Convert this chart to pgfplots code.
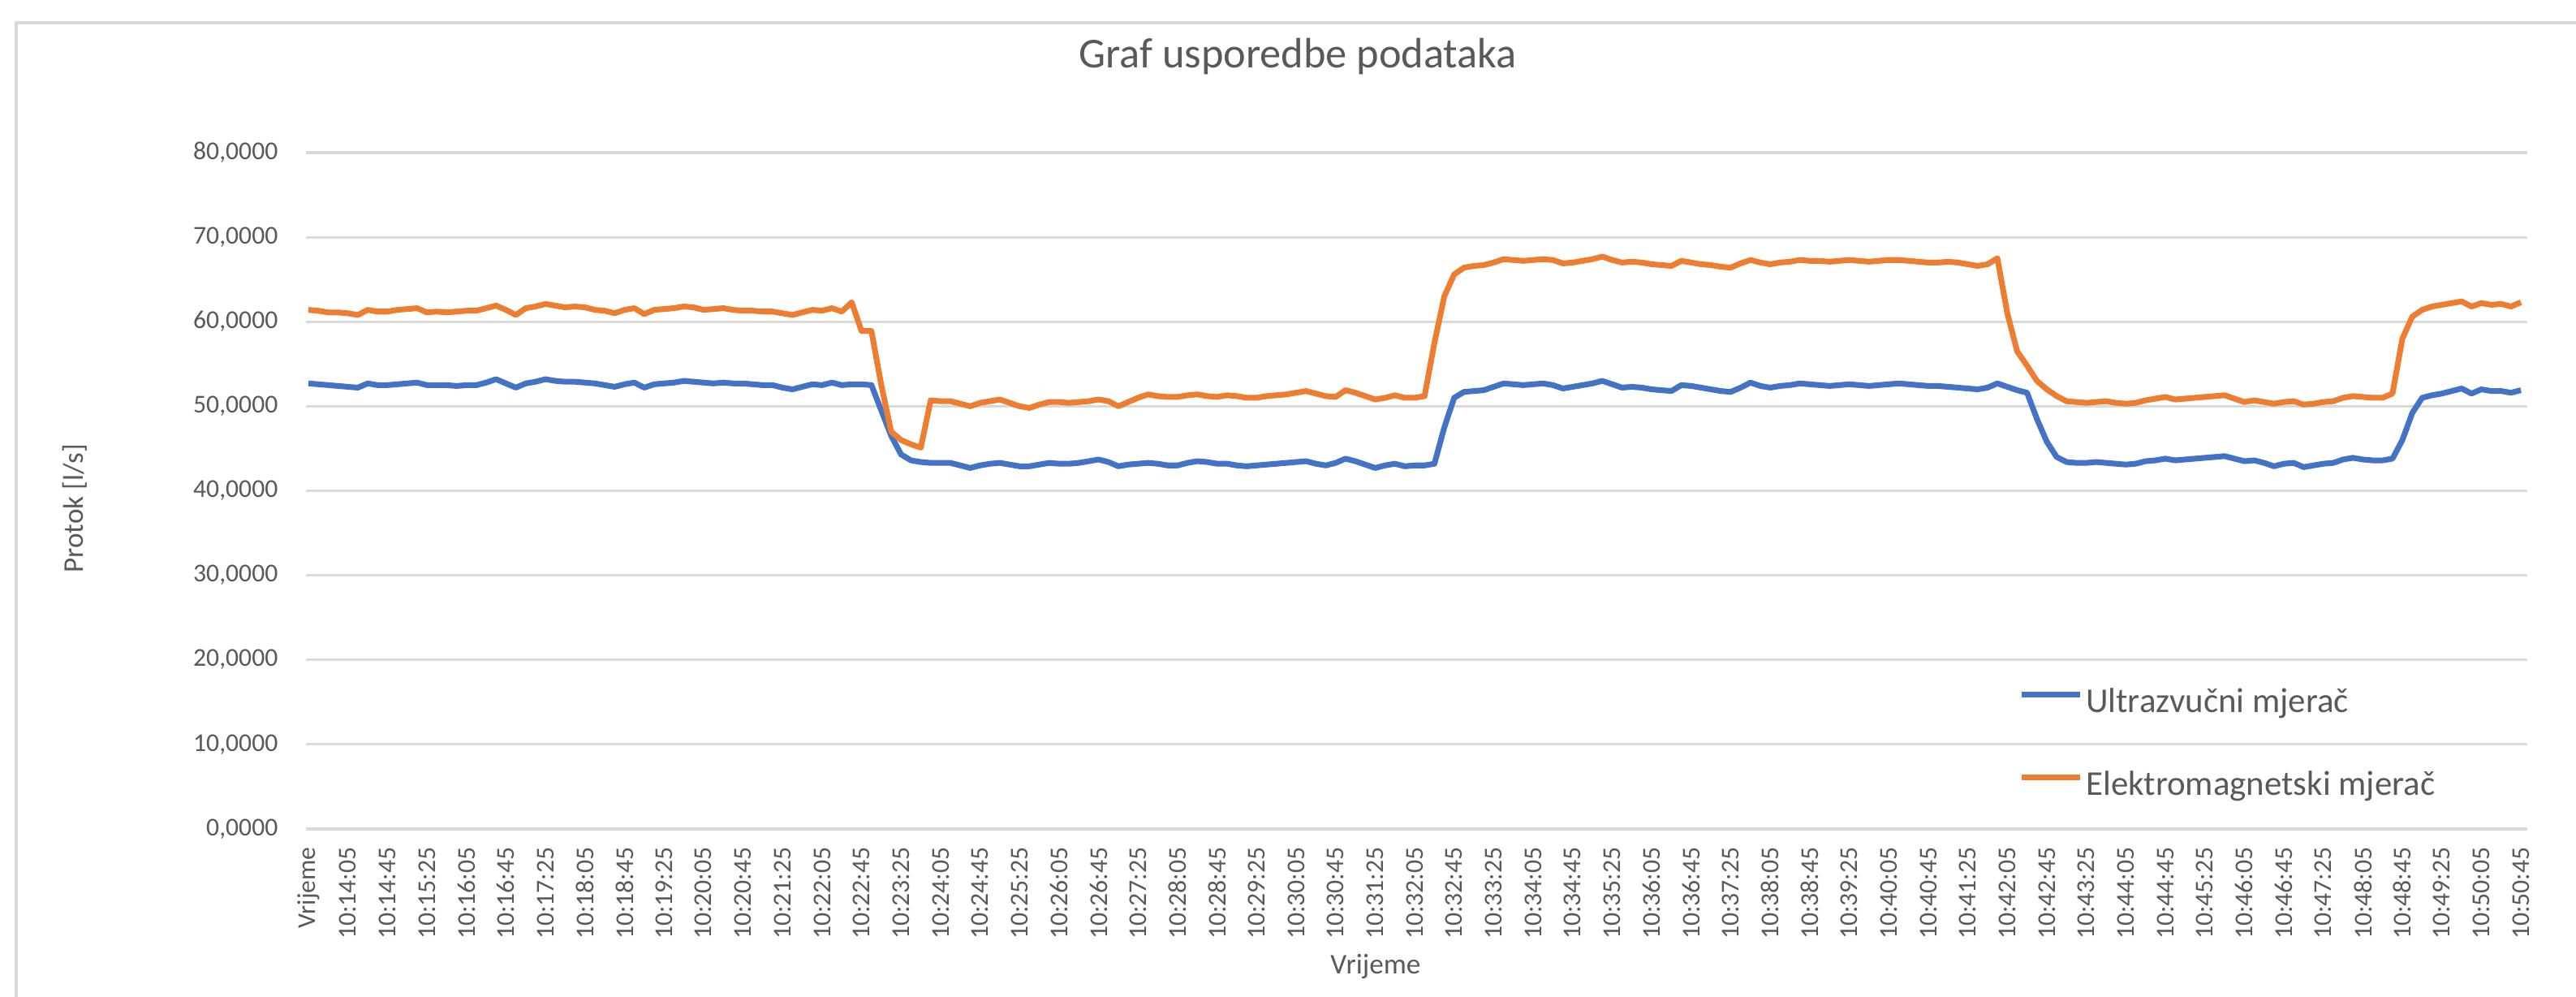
\documentclass[border=0pt]{standalone}
\usepackage{fontspec}
\setmainfont{Carlito}
\usepackage{pgfplots}
\usepackage{pgfplotstable}
\pgfplotsset{compat=1.18}
\definecolor{ublue}{HTML}{4472C4}
\definecolor{uorange}{HTML}{ED7D31}
\definecolor{txt}{HTML}{595959}
\definecolor{gridc}{HTML}{D9D9D9}

\pgfplotstableread{
i u e
0 52.7 61.4
1 52.6 61.3
2 52.5 61.1
3 52.4 61.1
4 52.3 61.0
5 52.2 60.8
6 52.7 61.4
7 52.5 61.2
8 52.5 61.2
9 52.6 61.4
10 52.7 61.5
11 52.8 61.6
12 52.5 61.1
13 52.5 61.2
14 52.5 61.1
15 52.4 61.2
16 52.5 61.3
17 52.5 61.3
18 52.8 61.6
19 53.2 61.9
20 52.7 61.4
21 52.2 60.8
22 52.7 61.6
23 52.9 61.8
24 53.2 62.1
25 53.0 61.9
26 52.9 61.7
27 52.9 61.8
28 52.8 61.7
29 52.7 61.4
30 52.5 61.3
31 52.3 61.0
32 52.6 61.4
33 52.8 61.6
34 52.2 60.9
35 52.6 61.4
36 52.7 61.5
37 52.8 61.6
38 53.0 61.8
39 52.9 61.7
40 52.8 61.4
41 52.7 61.5
42 52.8 61.6
43 52.7 61.4
44 52.7 61.3
45 52.6 61.3
46 52.5 61.2
47 52.5 61.2
48 52.2 61.0
49 52.0 60.8
50 52.3 61.1
51 52.6 61.4
52 52.5 61.3
53 52.8 61.6
54 52.5 61.2
55 52.6 62.3
56 52.6 58.9
57 52.5 58.9
58 49.5 52.5
59 46.5 47.0
60 44.3 46.0
61 43.6 45.5
62 43.4 45.1
63 43.3 50.7
64 43.3 50.6
65 43.3 50.6
66 43.0 50.3
67 42.7 50.0
68 43.0 50.4
69 43.2 50.6
70 43.3 50.8
71 43.1 50.4
72 42.9 50.0
73 42.9 49.8
74 43.1 50.2
75 43.3 50.5
76 43.2 50.5
77 43.2 50.4
78 43.3 50.5
79 43.5 50.6
80 43.7 50.8
81 43.4 50.6
82 42.9 50.0
83 43.1 50.5
84 43.2 51.0
85 43.3 51.4
86 43.2 51.2
87 43.0 51.1
88 43.0 51.1
89 43.3 51.3
90 43.5 51.4
91 43.4 51.2
92 43.2 51.1
93 43.2 51.3
94 43.0 51.2
95 42.9 51.0
96 43.0 51.0
97 43.1 51.2
98 43.2 51.3
99 43.3 51.4
100 43.4 51.6
101 43.5 51.8
102 43.2 51.5
103 43.0 51.2
104 43.3 51.1
105 43.8 51.9
106 43.5 51.6
107 43.1 51.2
108 42.7 50.8
109 43.0 51.0
110 43.2 51.3
111 42.9 51.0
112 43.0 51.0
113 43.0 51.2
114 43.2 57.5
115 47.5 63.0
116 51.0 65.6
117 51.7 66.4
118 51.8 66.6
119 51.9 66.7
120 52.3 67.0
121 52.7 67.4
122 52.6 67.3
123 52.5 67.2
124 52.6 67.3
125 52.7 67.4
126 52.5 67.3
127 52.1 66.9
128 52.3 67.0
129 52.5 67.2
130 52.7 67.4
131 53.0 67.7
132 52.6 67.3
133 52.2 67.0
134 52.3 67.1
135 52.2 67.0
136 52.0 66.8
137 51.9 66.7
138 51.8 66.6
139 52.5 67.2
140 52.4 67.0
141 52.2 66.8
142 52.0 66.7
143 51.8 66.5
144 51.7 66.4
145 52.2 66.9
146 52.8 67.3
147 52.4 67.0
148 52.2 66.8
149 52.4 67.0
150 52.5 67.1
151 52.7 67.3
152 52.6 67.2
153 52.5 67.2
154 52.4 67.1
155 52.5 67.2
156 52.6 67.3
157 52.5 67.2
158 52.4 67.1
159 52.5 67.2
160 52.6 67.3
161 52.7 67.3
162 52.6 67.2
163 52.5 67.1
164 52.4 67.0
165 52.4 67.0
166 52.3 67.1
167 52.2 67.0
168 52.1 66.8
169 52.0 66.6
170 52.2 66.8
171 52.7 67.5
172 52.3 61.0
173 51.9 56.5
174 51.6 54.8
175 48.5 53.0
176 45.8 52.0
177 44.0 51.2
178 43.4 50.6
179 43.3 50.5
180 43.3 50.4
181 43.4 50.5
182 43.3 50.6
183 43.2 50.4
184 43.1 50.3
185 43.2 50.4
186 43.5 50.7
187 43.6 50.9
188 43.8 51.1
189 43.6 50.8
190 43.7 50.9
191 43.8 51.0
192 43.9 51.1
193 44.0 51.2
194 44.1 51.3
195 43.8 50.9
196 43.5 50.5
197 43.6 50.7
198 43.3 50.5
199 42.9 50.3
200 43.2 50.5
201 43.3 50.6
202 42.8 50.2
203 43.0 50.3
204 43.2 50.5
205 43.3 50.6
206 43.7 51.0
207 43.9 51.2
208 43.7 51.1
209 43.6 51.0
210 43.6 51.0
211 43.8 51.5
212 46.0 58.0
213 49.2 60.6
214 51.0 61.4
215 51.3 61.8
216 51.5 62.0
217 51.8 62.2
218 52.1 62.4
219 51.5 61.8
220 52.0 62.2
221 51.8 62.0
222 51.8 62.1
223 51.6 61.8
224 51.9 62.3
}\datatable

\begin{document}
\begin{tikzpicture}
\path[use as bounding box, fill=white] (0,0) rectangle (31.74,12.28);
\draw[color=gridc, line width=1pt] (0.20,0) -- (0.20,12.00) -- (31.74,12.00);
\begin{axis}[
  at={(3.77cm,2.07cm)}, anchor=south west,
  width=27.37cm, height=8.33cm, scale only axis,
  xmin=-0.25, xmax=224.65, ymin=0, ymax=80,
  axis line style={draw=none},
  major tick length=0pt,
  ymajorgrids, grid style={color=gridc, line width=0.9pt},
  ytick={0,10,...,80},
  scaled y ticks=false,
  yticklabel style={font=\fontsize{9}{10}\selectfont, color=txt, anchor=east, inner sep=0pt, xshift=-0.34cm,
    /pgf/number format/.cd, fixed, fixed zerofill, precision=4, use comma, assume math mode=true},
  xtick={0,4,...,224},
  xticklabels={Vrijeme,10:14:05,10:14:45,10:15:25,10:16:05,10:16:45,10:17:25,10:18:05,10:18:45,10:19:25,10:20:05,10:20:45,10:21:25,10:22:05,10:22:45,10:23:25,10:24:05,10:24:45,10:25:25,10:26:05,10:26:45,10:27:25,10:28:05,10:28:45,10:29:25,10:30:05,10:30:45,10:31:25,10:32:05,10:32:45,10:33:25,10:34:05,10:34:45,10:35:25,10:36:05,10:36:45,10:37:25,10:38:05,10:38:45,10:39:25,10:40:05,10:40:45,10:41:25,10:42:05,10:42:45,10:43:25,10:44:05,10:44:45,10:45:25,10:46:05,10:46:45,10:47:25,10:48:05,10:48:45,10:49:25,10:50:05,10:50:45},
  xticklabel style={font=\fontsize{9}{10}\selectfont, color=txt, yshift=-0.22cm, rotate=90, anchor=east, inner sep=0pt},
  title={Graf usporedbe podataka},
  title style={at={(axis description cs:0.4465,1.1165)}, anchor=center, font=\fontsize{14.9}{16}\selectfont, color=txt},
  xlabel={Vrijeme},
  xlabel style={at={(axis description cs:0.4815,-0.203)}, anchor=center, font=\fontsize{10}{12}\selectfont, color=txt},
  ylabel={Protok [l/s]},
  ylabel style={at={(axis description cs:-0.104,0.474)}, anchor=center, font=\fontsize{10}{12}\selectfont, color=txt},
  legend cell align=left,
  legend image code/.code={\draw[#1, line width=2pt] (0cm,0.35em) -- (0.72cm,0.35em);},
  legend style={at={(axis description cs:0.771,0.2077)}, anchor=north west, draw=none, fill=none,
    inner sep=0pt, outer sep=0pt, row sep=0.62cm, font=\fontsize{12.2}{14}\selectfont,
    nodes={inner sep=0pt, text height=0.3cm, text depth=0.1cm, text=txt},
    /tikz/every odd column/.append style={column sep=0.04cm}},
]
\addplot[ublue, line width=2pt, line join=round] table[x=i, y=u]{\datatable};
\addlegendentry{Ultrazvučni mjerač}
\addplot[uorange, line width=2pt, line join=round] table[x=i, y=e]{\datatable};
\addlegendentry{Elektromagnetski mjerač}
\end{axis}
\end{tikzpicture}
\end{document}
